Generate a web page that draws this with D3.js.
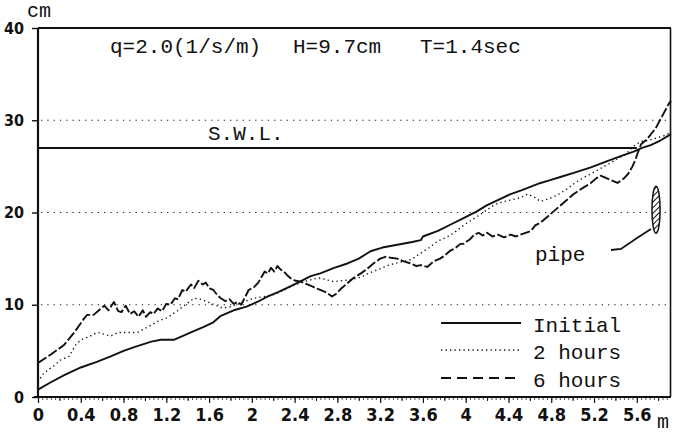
<!DOCTYPE html>
<html>
<head>
<meta charset="utf-8">
<script src="https://cdn.jsdelivr.net/npm/d3@7"></script>
<style>
  html, body { margin: 0; padding: 0; background: #fff; }
  svg { display: block; }
  .mono { font-family: "Liberation Mono", "DejaVu Sans Mono", monospace; fill: #111; }
  .ax text { font-family: "Liberation Sans Narrow", "DejaVu Sans Condensed", sans-serif; font-weight: bold; font-stretch: condensed; fill: #111; }
</style>
</head>
<body>
<svg id="chart" width="673" height="435"></svg>
<script>
// ---------------- data ----------------
const xTicks = [0, 0.4, 0.8, 1.2, 1.6, 2, 2.4, 2.8, 3.2, 3.6, 4, 4.4, 4.8, 5.2, 5.6];
const xTickLabels = ["0", "0.4", "0.8", "1.2", "1.6", "2", "2.4", "2.8", "3.2", "3.6", "4", "4.4", "4.8", "5.2", "5.6"];
const yTicks = [0, 10, 20, 30, 40];
const yGrid = [10, 20, 30];
const swlLevel = 27.0;
const swlExtent = [0, 5.6];
const seriesNames = ["Initial", "2 hours", "6 hours"];
const titleParts = ["q=2.0(1/s/m)", "H=9.7cm", "T=1.4sec"];

// Initial profile [x (m), elevation (cm)]
const initial = [
  [0,0.8],[0.12,1.6],[0.25,2.4],[0.40,3.2],[0.55,3.8],[0.68,4.4],[0.80,5.0],[0.90,5.4],
  [1.06,6.0],[1.15,6.2],[1.27,6.2],[1.43,7.0],[1.55,7.6],[1.64,8.1],[1.71,8.8],[1.83,9.4],
  [1.95,9.8],[2.05,10.3],[2.15,10.9],[2.25,11.4],[2.36,12.0],[2.45,12.5],[2.55,13.1],
  [2.64,13.4],[2.77,14.0],[2.90,14.5],[3.00,15.0],[3.11,15.8],[3.22,16.2],[3.36,16.5],
  [3.50,16.8],[3.58,17.0],[3.60,17.4],[3.74,18.0],[3.86,18.7],[3.98,19.4],[4.10,20.1],
  [4.20,20.8],[4.31,21.4],[4.42,22.0],[4.52,22.4],[4.61,22.8],[4.70,23.2],[4.79,23.5],
  [4.90,23.9],[5.01,24.3],[5.17,24.9],[5.33,25.6],[5.45,26.1],[5.57,26.6],[5.65,27.0],
  [5.73,27.3],[5.82,27.8],[5.92,28.5]
];

// After 2 hours
const hours2 = [
  [0,1.6],[0.04,2.4],[0.09,2.9],[0.15,3.4],[0.21,4.0],[0.29,4.4],[0.36,5.8],[0.42,6.3],
  [0.47,6.5],[0.52,6.8],[0.56,7.0],[0.62,6.8],[0.68,6.6],[0.75,7.0],[0.84,7.0],[0.93,7.0],
  [1.03,7.6],[1.12,8.2],[1.21,8.6],[1.31,9.4],[1.40,10.2],[1.46,10.7],[1.52,10.6],
  [1.59,10.3],[1.65,10.0],[1.71,9.7],[1.78,9.7],[1.83,9.9],[1.92,10.3],[2.02,10.7],
  [2.12,10.9],[2.21,11.1],[2.30,11.6],[2.39,12.1],[2.46,12.4],[2.52,12.6],[2.58,12.8],
  [2.64,12.9],[2.70,12.7],[2.77,12.5],[2.83,12.6],[2.92,12.7],[3.02,13.0],[3.11,13.5],
  [3.20,13.9],[3.28,14.3],[3.38,14.6],[3.49,14.9],[3.58,15.6],[3.66,16.2],[3.74,16.9],
  [3.82,17.3],[3.89,17.8],[3.98,18.6],[4.07,19.3],[4.14,19.8],[4.20,20.3],[4.28,20.9],
  [4.36,21.2],[4.44,21.4],[4.51,21.6],[4.58,22.0],[4.65,21.6],[4.70,21.2],[4.78,21.5],
  [4.86,21.9],[4.94,22.5],[5.01,23.1],[5.09,23.7],[5.17,24.2],[5.25,24.7],[5.33,25.2],
  [5.40,25.7],[5.48,26.2],[5.53,26.7],[5.57,27.2],[5.61,27.5],[5.64,27.7],[5.70,27.8],
  [5.76,28.0],[5.85,28.3],[5.92,28.7]
];

// After 6 hours
const hours6 = [
  [0,3.7],[0.12,4.6],[0.24,5.6],[0.34,7.0],[0.43,8.5],[0.46,8.9],[0.52,8.9],[0.59,9.6],
  [0.62,9.9],[0.66,9.4],[0.71,10.3],[0.75,9.3],[0.78,9.2],[0.82,9.9],[0.86,9.0],[0.90,9.3],
  [0.94,8.7],[0.98,9.4],[1.01,8.7],[1.05,9.2],[1.08,9.0],[1.12,9.6],[1.16,9.3],[1.20,10.1],
  [1.24,10.0],[1.28,10.7],[1.31,10.6],[1.35,11.6],[1.38,11.4],[1.43,12.2],[1.46,11.8],
  [1.50,12.6],[1.54,12.2],[1.57,12.4],[1.60,11.8],[1.64,11.6],[1.68,11.0],[1.71,10.7],
  [1.75,10.4],[1.79,10.6],[1.83,10.1],[1.87,10.3],[1.90,10.0],[1.94,10.9],[1.97,11.6],
  [2.02,11.9],[2.06,12.4],[2.10,13.2],[2.12,13.6],[2.15,13.4],[2.18,14.0],[2.21,13.6],
  [2.24,14.2],[2.27,13.8],[2.30,13.6],[2.33,13.2],[2.37,12.8],[2.41,12.6],[2.46,12.5],
  [2.52,12.2],[2.58,11.9],[2.64,11.6],[2.70,11.3],[2.75,10.9],[2.79,11.2],[2.83,11.7],
  [2.89,12.3],[2.95,12.9],[3.02,13.4],[3.08,13.9],[3.14,14.5],[3.20,15.0],[3.25,15.2],
  [3.30,15.1],[3.36,15.0],[3.42,14.7],[3.48,14.5],[3.54,14.2],[3.58,14.3],[3.64,14.1],
  [3.70,14.7],[3.76,15.0],[3.80,15.3],[3.86,15.9],[3.90,16.1],[3.95,16.6],[3.98,16.6],
  [4.04,17.1],[4.08,17.6],[4.12,17.8],[4.16,17.5],[4.20,17.8],[4.25,17.4],[4.30,17.6],
  [4.36,17.3],[4.42,17.6],[4.47,17.4],[4.51,17.6],[4.56,17.8],[4.61,18.0],[4.65,18.6],
  [4.70,18.9],[4.77,19.6],[4.86,20.5],[4.94,21.3],[5.01,22.0],[5.10,22.7],[5.17,23.2],
  [5.22,23.7],[5.26,24.0],[5.30,23.8],[5.36,23.5],[5.42,23.2],[5.48,23.7],[5.52,24.2],
  [5.56,25.0],[5.59,25.8],[5.61,26.5],[5.64,27.4],[5.70,28.0],[5.78,29.2],[5.84,30.5],
  [5.90,31.8],[5.92,32.1]
];

// pipe (position in data units)
const pipeX = 5.78, pipeY = 20.3, pipeHalfH = 2.55, pipeHalfW = 0.038;

// ---------------- drawing ----------------
const svg = d3.select("#chart");
const x = d3.scaleLinear().domain([0, 5.92]).range([38, 671]);
const y = d3.scaleLinear().domain([0, 40]).range([397, 28]);

const defs = svg.append("defs");
const pat = defs.append("pattern").attr("id", "hatch").attr("patternUnits", "userSpaceOnUse")
  .attr("width", 4).attr("height", 4).attr("patternTransform", "rotate(45)");
pat.append("rect").attr("width", 4).attr("height", 4).attr("fill", "#fff");
pat.append("line").attr("x1", 0).attr("y1", 0).attr("x2", 0).attr("y2", 4)
  .attr("stroke", "#111").attr("stroke-width", 2);

// gridlines (dotted)
svg.append("g").selectAll("line").data(yGrid).join("line")
  .attr("x1", x(0) + 3).attr("x2", x(5.92) - 2)
  .attr("y1", d => y(d)).attr("y2", d => y(d))
  .attr("stroke", "#222").attr("stroke-width", 1.2).attr("stroke-dasharray", "1.3,5");

// frame
svg.append("line").attr("x1", x(0)).attr("x2", x(5.92)).attr("y1", y(40)).attr("y2", y(40))
  .attr("stroke", "#111").attr("stroke-width", 2);
svg.append("line").attr("x1", x(5.92) - 0.5).attr("x2", x(5.92) - 0.5).attr("y1", y(40)).attr("y2", y(0))
  .attr("stroke", "#111").attr("stroke-width", 1.6);

// x axis: minor ruler ticks
svg.append("g").attr("class", "ax").attr("transform", `translate(0,${y(0)})`)
  .call(d3.axisBottom(x).tickValues(d3.range(0, 5.9, 0.04)).tickSize(3).tickFormat(""))
  .call(g => g.select(".domain").remove())
  .call(g => g.selectAll("line").attr("stroke", "#222").attr("stroke-width", 0.8));
svg.append("g").attr("class", "ax").attr("transform", `translate(0,${y(0)})`)
  .call(d3.axisBottom(x).tickValues(d3.range(0.2, 5.9, 0.4)).tickSize(4).tickFormat(""))
  .call(g => g.select(".domain").remove())
  .call(g => g.selectAll("line").attr("stroke", "#111").attr("stroke-width", 1));
svg.append("g").attr("class", "ax").attr("transform", `translate(0,${y(0)})`)
  .call(d3.axisBottom(x).tickValues(xTicks).tickSize(6).tickPadding(5)
    .tickFormat((d, i) => xTickLabels[i]))
  .call(g => g.select(".domain").attr("stroke", "#111").attr("stroke-width", 2.2)
    .attr("d", `M${x(0) - 4},0H${x(5.92)}`))
  .call(g => g.selectAll("line").attr("stroke", "#111").attr("stroke-width", 1.2))
  .call(g => g.selectAll("text").attr("font-size", 18));

// y axis
svg.append("g").attr("class", "ax").attr("transform", `translate(${x(0)},0)`)
  .call(d3.axisLeft(y).tickValues(yTicks).tickSize(6).tickPadding(8))
  .call(g => g.select(".domain").attr("stroke", "#111").attr("stroke-width", 2.2)
    .attr("d", `M0,${y(40)}V${y(0)}`))
  .call(g => g.selectAll("line").attr("stroke", "#111").attr("stroke-width", 1.4))
  .call(g => g.selectAll("text").attr("font-size", 16));

// unit labels
svg.append("text").attr("class", "mono").attr("x", 27).attr("y", 17).attr("font-size", 20).text("cm");
svg.append("text").attr("class", "mono").attr("x", 657).attr("y", 428).attr("font-size", 20).text("m");

// title
const titleX = [110, 293, 420];
svg.append("g").selectAll("text").data(titleParts).join("text")
  .attr("class", "mono").attr("x", (d, i) => titleX[i]).attr("y", 53)
  .attr("font-size", 21).text(d => d);

// S.W.L.
svg.append("line").attr("x1", x(swlExtent[0])).attr("x2", x(swlExtent[1]))
  .attr("y1", y(swlLevel)).attr("y2", y(swlLevel))
  .attr("stroke", "#111").attr("stroke-width", 2);
svg.append("text").attr("class", "mono").attr("x", 208).attr("y", 140).attr("font-size", 21).text("S.W.L.");

// profiles
const line = d3.line().x(d => x(d[0])).y(d => y(d[1]));
const styles = [
  { dash: null, w: 1.9 },
  { dash: "1.3,3.2", w: 1.4 },
  { dash: "10,2.5", w: 1.9 }
];
const series = [initial, hours2, hours6];
svg.append("g").selectAll("path").data(series).join("path")
  .attr("d", line).attr("fill", "none").attr("stroke", "#111")
  .attr("stroke-width", (d, i) => styles[i].w)
  .attr("stroke-dasharray", (d, i) => styles[i].dash)
  .attr("stroke-linejoin", "round");

// pipe
svg.append("ellipse")
  .attr("cx", x(pipeX)).attr("cy", y(pipeY))
  .attr("rx", x(pipeX + pipeHalfW) - x(pipeX)).attr("ry", y(pipeY - pipeHalfH) - y(pipeY))
  .attr("fill", "url(#hatch)").attr("stroke", "#111").attr("stroke-width", 1.5);
svg.append("path")
  .attr("d", `M611,250 L621,249 L637,238 L651,229`)
  .attr("fill", "none").attr("stroke", "#111").attr("stroke-width", 1.8);
svg.append("text").attr("class", "mono").attr("x", 535).attr("y", 261).attr("font-size", 21).text("pipe");

// legend
const legY = [323, 350, 378];
const leg = svg.append("g").selectAll("g").data(seriesNames).join("g");
leg.append("line").attr("x1", 441).attr("x2", 521)
  .attr("y1", (d, i) => legY[i]).attr("y2", (d, i) => legY[i])
  .attr("stroke", "#111")
  .attr("stroke-width", (d, i) => styles[i].w)
  .attr("stroke-dasharray", (d, i) => i === 2 ? "10,6" : styles[i].dash);
leg.append("text").attr("class", "mono").attr("x", 533)
  .attr("y", (d, i) => legY[i] + 9).attr("font-size", 21).text(d => d);
</script>
</body>
</html>
